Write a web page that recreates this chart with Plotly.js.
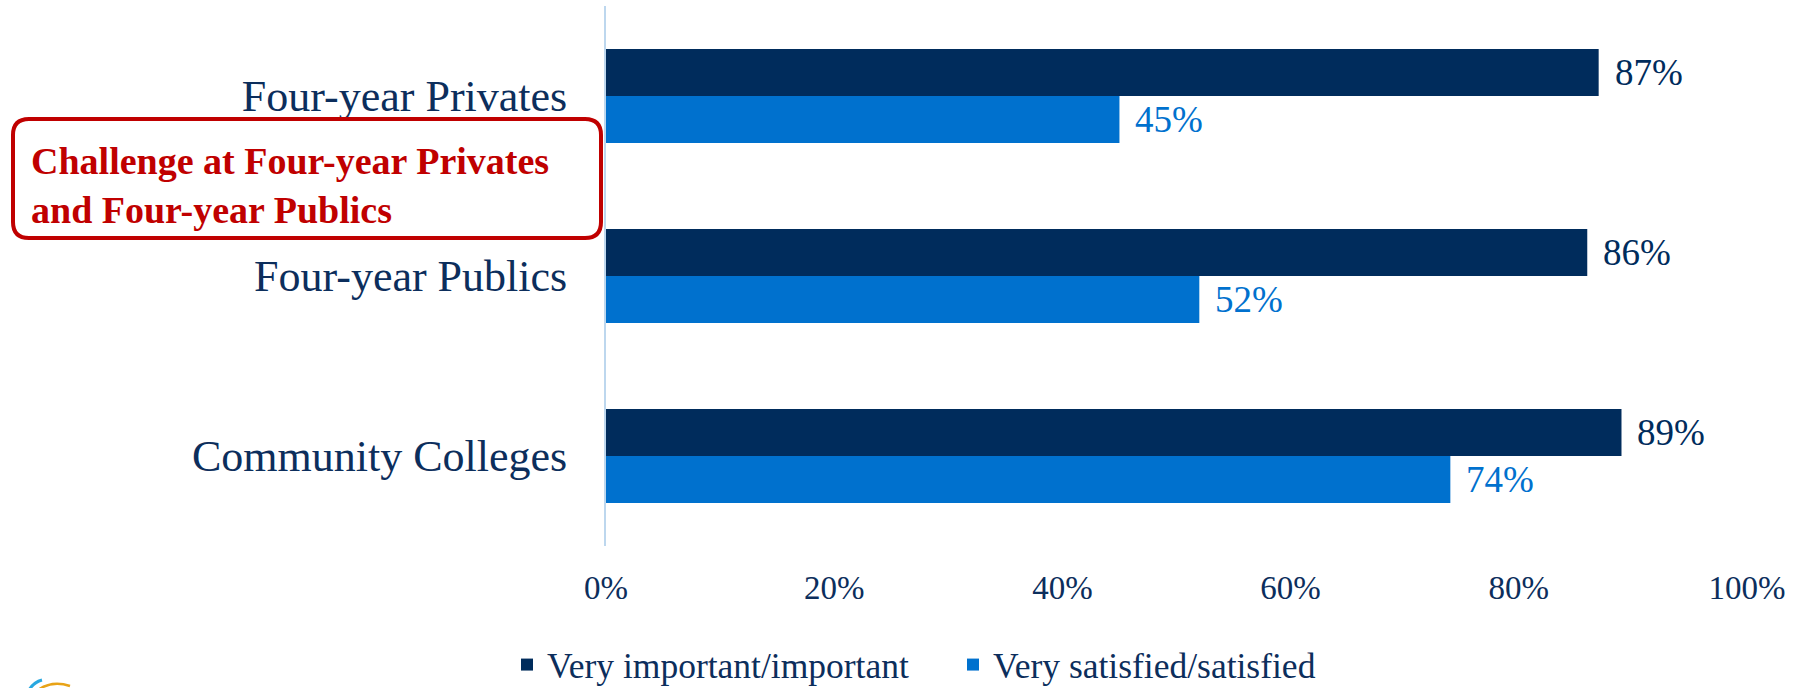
<!DOCTYPE html>
<html>
<head>
<meta charset="utf-8">
<script src="https://cdn.plot.ly/plotly-3.0.1.min.js"></script>
<style>
html,body{margin:0;padding:0;background:#fff;}
#chart{width:1800px;height:688px;}
</style>
</head>
<body>
<div id="chart"></div>
<script>
// Data (bottom-to-top category order for Plotly's categorical y axis)
const categories = ["Community Colleges", "Four-year Publics", "Four-year Privates"];
const importantValues = [0.89, 0.86, 0.87];
const satisfiedValues = [0.74, 0.52, 0.45];
const seriesNames = ["Very important/important", "Very satisfied/satisfied"];
const xTickValues = [0, 0.2, 0.4, 0.6, 0.8, 1.0];
const xTickLabels = ["0%", "20%", "40%", "60%", "80%", "100%"];
const calloutText = "Challenge at Four-year Privates<br>and Four-year Publics";

const darkBlue = "#002C5C";
const lightBlue = "#0071CE";
const navyText = "#0C2E5C";
const redCallout = "#C00000";
const FONT = "Liberation Serif, Times New Roman, serif";

// plot area in page pixels
const L = 606, R = 1747, T = 6, B = 546;
const W = 1800, H = 688;
const px2x = p => (p - L) / (R - L);
const py2y = p => (B - p) / (B - T);

const traces = [
  {
    type: "bar", orientation: "h", name: seriesNames[1],
    y: categories, x: satisfiedValues,
    marker: {color: lightBlue}, hoverinfo: "skip"
  },
  {
    type: "bar", orientation: "h", name: seriesNames[0],
    y: categories, x: importantValues,
    marker: {color: darkBlue}, hoverinfo: "skip"
  }
];

const barHalf = 23.5; // pixel offset of each bar centre from category centre
const annotations = [];
categories.forEach((c, i) => {
  annotations.push({
    x: importantValues[i], y: c, xref: "x", yref: "y",
    text: Math.round(importantValues[i] * 100) + "%",
    showarrow: false, xanchor: "left", yanchor: "middle",
    xshift: 14, yshift: barHalf,
    font: {family: FONT, size: 37, color: darkBlue}
  });
  annotations.push({
    x: satisfiedValues[i], y: c, xref: "x", yref: "y",
    text: Math.round(satisfiedValues[i] * 100) + "%",
    showarrow: false, xanchor: "left", yanchor: "middle",
    xshift: 14, yshift: -barHalf,
    font: {family: FONT, size: 37, color: lightBlue}
  });
});
annotations.push({
  xref: "paper", yref: "paper",
  x: px2x(29), y: py2y(185), xanchor: "left", yanchor: "middle",
  text: "<b>" + calloutText + "</b>", align: "left", showarrow: false,
  font: {family: FONT, size: 38, color: redCallout}
});

// rounded rectangle for the callout
function roundRect(x0, y0, x1, y1, r) {
  const X = p => px2x(p).toFixed(5), Y = p => py2y(p).toFixed(5);
  return `M${X(x0 + r)},${Y(y0)} L${X(x1 - r)},${Y(y0)} Q${X(x1)},${Y(y0)} ${X(x1)},${Y(y0 + r)} ` +
         `L${X(x1)},${Y(y1 - r)} Q${X(x1)},${Y(y1)} ${X(x1 - r)},${Y(y1)} ` +
         `L${X(x0 + r)},${Y(y1)} Q${X(x0)},${Y(y1)} ${X(x0)},${Y(y1 - r)} ` +
         `L${X(x0)},${Y(y0 + r)} Q${X(x0)},${Y(y0)} ${X(x0 + r)},${Y(y0)} Z`;
}

const shapes = [
  {type: "path", xref: "paper", yref: "paper", path: roundRect(13, 119, 601, 238, 16),
   line: {color: redCallout, width: 4}, fillcolor: "rgba(0,0,0,0)"},
  // partial logo arcs at the bottom-left edge
  {type: "path", xref: "paper", yref: "paper",
   path: `M${px2x(29)},${py2y(690)} Q${px2x(34)},${py2y(682)} ${px2x(42)},${py2y(680)}`,
   line: {color: "#29A8E0", width: 3}},
  {type: "path", xref: "paper", yref: "paper",
   path: `M${px2x(38)},${py2y(690)} Q${px2x(52)},${py2y(680)} ${px2x(70)},${py2y(686)}`,
   line: {color: "#E8A317", width: 2.5}}
];

const layout = {
  width: W, height: H,
  margin: {l: L, r: W - R, t: T, b: H - B, pad: 0},
  paper_bgcolor: "#fff", plot_bgcolor: "#fff",
  barmode: "group", bargap: 0.478, bargroupgap: 0,
  showlegend: true,
  legend: {
    orientation: "h", traceorder: "reversed",
    xref: "container", yref: "container",
    x: 507 / W, y: 1 - 665 / H, xanchor: "left", yanchor: "middle",
    font: {family: FONT, size: 35.5, color: navyText},
    entrywidth: 401, entrywidthmode: "pixels",
    itemclick: false, itemdoubleclick: false
  },
  xaxis: {
    range: [0, 1], tickvals: xTickValues, ticktext: xTickLabels,
    showgrid: false, zeroline: false, showline: false, ticks: "",
    ticklabelstandoff: 19,
    tickfont: {family: FONT, size: 33, color: navyText},
    fixedrange: true
  },
  yaxis: {
    type: "category", categoryorder: "array", categoryarray: categories,
    range: [-0.5, 2.5],
    showgrid: false, zeroline: false, showline: true,
    linecolor: "#BDD7EE", linewidth: 2, ticks: "",
    ticklabelstandoff: 28,
    tickfont: {family: FONT, size: 44, color: navyText},
    fixedrange: true
  },
  annotations: annotations,
  shapes: shapes
};

Plotly.newPlot("chart", traces, layout, {displayModeBar: false, staticPlot: true});
</script>
</body>
</html>
